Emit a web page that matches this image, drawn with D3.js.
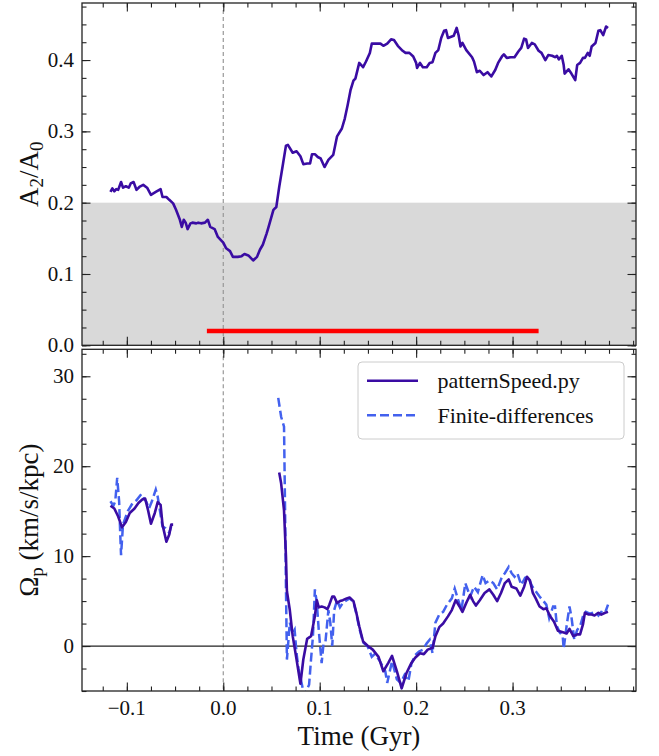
<!DOCTYPE html>
<html>
<head>
<meta charset="utf-8">
<script src="https://cdn.jsdelivr.net/npm/d3@7"></script>
<style>
  @font-face { font-family: "ChartSerif"; src: local("Liberation Serif"), local("LiberationSerif"), local("Tinos"); }
  body { margin: 0; background: #fff; }
</style>
</head>
<body>
<div id="chart"></div>
<script>
// bar strength A2/A0 vs time
const a2Time = [-0.117,-0.115,-0.113,-0.111,-0.109,-0.106,-0.104,-0.101,-0.098,-0.096,-0.093,-0.090,-0.087,-0.083,-0.079,-0.075,-0.070,-0.065,-0.063,-0.059,-0.056,-0.052,-0.049,-0.045,-0.043,-0.041,-0.039,-0.037,-0.034,-0.032,-0.028,-0.026,-0.023,-0.019,-0.016,-0.0135,-0.009,-0.0056,0.000,0.003,0.007,0.010,0.015,0.019,0.022,0.026,0.031,0.035,0.038,0.041,0.045,0.047,0.052,0.055,0.058,0.062,0.065,0.067,0.072,0.076,0.080,0.083,0.087,0.090,0.092,0.095,0.098,0.101,0.105,0.109,0.114,0.118,0.123,0.126,0.129,0.132,0.135,0.137,0.141,0.145,0.148,0.152,0.154,0.159,0.163,0.166,0.170,0.174,0.177,0.181,0.186,0.189,0.193,0.197,0.200,0.201,0.204,0.207,0.211,0.214,0.217,0.220,0.223,0.226,0.229,0.231,0.233,0.237,0.239,0.242,0.244,0.246,0.248,0.252,0.258,0.260,0.263,0.266,0.270,0.274,0.276,0.278,0.282,0.285,0.289,0.291,0.294,0.298,0.302,0.306,0.309,0.312,0.314,0.316,0.320,0.323,0.327,0.330,0.334,0.337,0.341,0.344,0.346,0.348,0.351,0.353,0.354,0.358,0.361,0.365,0.367,0.370,0.373,0.375,0.378,0.380,0.382,0.386,0.389,0.391,0.394,0.397,0.399];
const a2Ratio = [0.215,0.220,0.216,0.219,0.218,0.229,0.221,0.223,0.221,0.227,0.229,0.218,0.222,0.225,0.221,0.211,0.215,0.219,0.208,0.208,0.204,0.199,0.190,0.176,0.166,0.176,0.172,0.163,0.171,0.172,0.171,0.172,0.171,0.172,0.176,0.166,0.163,0.152,0.144,0.136,0.132,0.124,0.124,0.125,0.128,0.126,0.119,0.124,0.134,0.141,0.157,0.166,0.190,0.194,0.222,0.255,0.280,0.281,0.270,0.272,0.265,0.254,0.255,0.255,0.268,0.268,0.264,0.262,0.250,0.260,0.267,0.293,0.304,0.318,0.337,0.358,0.371,0.374,0.396,0.390,0.398,0.410,0.423,0.423,0.423,0.420,0.423,0.429,0.428,0.420,0.413,0.410,0.410,0.405,0.396,0.389,0.396,0.390,0.390,0.396,0.397,0.410,0.414,0.431,0.441,0.442,0.431,0.433,0.434,0.445,0.435,0.419,0.424,0.414,0.404,0.398,0.383,0.385,0.379,0.383,0.380,0.377,0.386,0.396,0.405,0.408,0.403,0.404,0.404,0.412,0.417,0.430,0.429,0.417,0.424,0.422,0.413,0.410,0.400,0.407,0.406,0.404,0.406,0.401,0.406,0.393,0.381,0.387,0.381,0.372,0.393,0.396,0.403,0.403,0.410,0.406,0.419,0.424,0.441,0.442,0.435,0.447,0.445];

// pattern speed, null marks the gap between the two segments
const patTime = [-0.117,-0.113,-0.109,-0.105,-0.101,-0.097,-0.092,-0.088,-0.084,-0.081,-0.078,-0.075,-0.071,-0.068,-0.065,-0.063,-0.059,-0.056,-0.054,-0.052,0.0,0.058,0.060,0.063,0.065,0.066,0.069,0.072,0.076,0.080,0.083,0.087,0.091,0.095,0.097,0.099,0.102,0.105,0.108,0.110,0.113,0.115,0.118,0.121,0.124,0.128,0.131,0.135,0.138,0.141,0.145,0.150,0.155,0.161,0.166,0.171,0.175,0.180,0.185,0.190,0.195,0.199,0.204,0.208,0.212,0.217,0.220,0.224,0.228,0.233,0.237,0.241,0.245,0.248,0.252,0.256,0.259,0.262,0.266,0.271,0.276,0.280,0.284,0.288,0.292,0.296,0.299,0.304,0.308,0.312,0.315,0.318,0.321,0.324,0.328,0.332,0.335,0.339,0.343,0.347,0.353,0.356,0.359,0.363,0.367,0.370,0.373,0.375,0.379,0.382,0.385,0.389,0.392,0.396,0.399];
const patOmega = [15.6,15.3,14.4,13.2,13.8,14.8,15.3,15.9,16.3,16.4,15.1,13.6,14.8,16.0,15.7,13.5,11.6,12.4,13.5,13.5,null,19.3,18.1,15.1,10.0,6.1,4.0,1.1,-1.5,-4.2,-1.5,0.8,1.1,3.3,5.1,4.3,4.4,4.3,4.1,4.6,5.5,5.5,4.8,5.0,5.1,5.3,5.4,5.0,3.7,2.2,0.5,0.0,-0.4,-1.2,-2.8,-1.9,-1.1,-2.8,-4.7,-3.0,-1.9,-1.3,-0.8,-0.9,-0.4,-0.2,1.1,2.1,2.5,3.3,4.0,5.1,4.4,3.8,4.8,5.7,5.0,4.5,5.1,5.9,6.3,5.7,5.0,5.9,7.0,7.4,6.6,6.4,5.6,6.6,7.7,7.3,5.9,5.3,4.4,4.1,4.2,3.3,2.7,1.7,1.5,1.4,1.9,1.1,1.3,1.3,2.4,3.7,3.5,3.5,3.4,3.7,3.5,3.7,3.8];

const fdTime = [-0.117,-0.114,-0.112,-0.110,-0.108,-0.107,-0.106,-0.104,-0.099,-0.094,-0.090,-0.085,-0.083,-0.080,-0.077,-0.074,-0.070,-0.068,-0.065,-0.063,-0.060,-0.056,-0.054,0.0,0.057,0.060,0.063,0.064,0.065,0.066,0.069,0.072,0.074,0.076,0.078,0.084,0.089,0.091,0.093,0.095,0.097,0.099,0.102,0.104,0.106,0.109,0.111,0.113,0.115,0.118,0.121,0.124,0.128,0.131,0.135,0.138,0.141,0.145,0.150,0.154,0.157,0.162,0.168,0.170,0.175,0.180,0.184,0.188,0.192,0.195,0.199,0.203,0.207,0.211,0.214,0.217,0.220,0.224,0.228,0.232,0.237,0.240,0.244,0.247,0.251,0.253,0.256,0.260,0.264,0.269,0.272,0.276,0.280,0.284,0.289,0.292,0.296,0.299,0.302,0.305,0.309,0.313,0.316,0.320,0.324,0.328,0.332,0.335,0.338,0.342,0.344,0.346,0.349,0.352,0.353,0.356,0.359,0.361,0.364,0.367,0.370,0.373,0.376,0.380,0.386,0.389,0.392,0.396,0.399];
const fdOmega = [16.1,15.6,16.1,18.7,16.1,12.9,10.1,13.5,15.0,15.9,16.2,16.9,16.5,16.1,15.3,16.1,17.4,16.6,14.6,13.3,13.1,12.6,13.3,null,27.6,25.5,24.4,15.9,6.6,-1.5,2.6,1.4,1.8,-0.8,-2.5,-5.5,-4.3,-1.5,1.1,6.3,4.8,1.8,-1.9,0.3,0.5,4.0,2.6,0.0,4.0,5.1,4.3,4.8,5.1,5.3,4.9,3.6,2.0,0.4,-0.1,-1.2,-0.9,-1.6,-2.8,-4.1,-1.7,-3.7,-4.1,-3.2,-3.9,-2.0,-1.0,-0.6,-0.4,0.3,0.7,-0.8,2.6,3.5,3.8,4.6,5.3,6.4,5.0,4.0,7.0,6.4,5.5,6.6,6.0,7.9,7.0,7.3,7.0,6.3,7.7,8.1,8.8,8.1,7.7,8.1,6.8,7.6,7.7,6.7,6.1,5.5,5.0,4.6,3.1,4.4,4.4,2.2,1.5,1.1,-0.3,2.2,4.4,3.3,0.7,1.8,2.2,3.3,3.8,3.6,3.8,3.4,3.8,3.7,4.6];

const xMajor = [-0.1, 0.0, 0.1, 0.2, 0.3];
const a2Major = [0.0, 0.1, 0.2, 0.3, 0.4];
const omegaMajor = [0, 10, 20, 30];
const barWindow = [-0.017, 0.327];   // red bar at A2/A0 = 0.02
const seriesNames = ["patternSpeed.py", "Finite-differences"];

const W = 659, H = 756;
const left = 82, right = 636;
const topPanel = {y0: 3, y1: 345.3};
const botPanel = {y0: 349.3, y1: 691};
const solidColor = "#3a0ca3", dashColor = "#4361ee";
const fontStyle = "font-family: 'Liberation Serif', ChartSerif, Tinos, 'Times New Roman', serif !important;";

const svg = d3.select("#chart").append("svg")
    .attr("width", W).attr("height", H);

const x = d3.scaleLinear().domain([-0.1465, 0.428]).range([left, right]);
const yTop = d3.scaleLinear().domain([0, 0.48]).range([topPanel.y1, topPanel.y0]);
const yBot = d3.scaleLinear().domain([-5, 33]).range([botPanel.y1, botPanel.y0]);

const xMinor = d3.range(-0.125, 0.43, 0.025).map(v => +v.toFixed(3));
const a2Minor = d3.range(0, 0.48, 0.025).map(v => +v.toFixed(3));
const omegaMinor = d3.range(-5, 33, 2.5);

const fmt = d => d < 0 ? "\u2212" + Math.abs(d).toFixed(1) : d.toFixed(1);

function label(parent, str, size) {
    return parent.append("text").attr("style", fontStyle)
        .attr("font-size", size).attr("fill", "#111").text(str);
}

svg.append("defs").append("clipPath").attr("id", "clipBot")
    .append("rect").attr("x", left).attr("y", botPanel.y0)
    .attr("width", right - left).attr("height", botPanel.y1 - botPanel.y0);
svg.select("defs").append("clipPath").attr("id", "clipTop")
    .append("rect").attr("x", left).attr("y", topPanel.y0)
    .attr("width", right - left).attr("height", topPanel.y1 - topPanel.y0);

function drawTicks(g, y, yMajor, yMinor, yFmt, showX, p) {
    const tk = (axis, vals, len, tx, ty) => g.append("g")
        .attr("transform", `translate(${tx},${ty})`)
        .call(axis.tickValues(vals).tickSizeInner(-len).tickSizeOuter(0).tickFormat(""));
    tk(d3.axisBottom(x), xMinor, 4.5, 0, p.y1);
    tk(d3.axisTop(x), xMinor, 4.5, 0, p.y0);
    tk(d3.axisLeft(y), yMinor, 4.5, left, 0);
    tk(d3.axisRight(y), yMinor, 4.5, right, 0);
    tk(d3.axisBottom(x), xMajor, 8.5, 0, p.y1);
    tk(d3.axisTop(x), xMajor, 8.5, 0, p.y0);
    tk(d3.axisLeft(y), yMajor, 8.5, left, 0);
    tk(d3.axisRight(y), yMajor, 8.5, right, 0);
    g.selectAll(".domain").remove();
    g.selectAll(".tick line").attr("stroke", "#222").attr("stroke-width", 1.1);

    yMajor.forEach(v => label(g, yFmt(v), 21)
        .attr("x", left - 8).attr("y", y(v) + 7).attr("text-anchor", "end"));
    if (showX) xMajor.forEach(v => label(g, fmt(v), 21)
        .attr("x", x(v)).attr("y", p.y1 + 24).attr("text-anchor", "middle"));

    g.append("rect").attr("x", left).attr("y", p.y0)
        .attr("width", right - left).attr("height", p.y1 - p.y0)
        .attr("fill", "none").attr("stroke", "#222").attr("stroke-width", 1.3);
}

// ---- top panel ----
const gTop = svg.append("g");
gTop.append("rect")
    .attr("x", left).attr("width", right - left)
    .attr("y", yTop(0.2)).attr("height", yTop(0) - yTop(0.2))
    .attr("fill", "#d9d9d9");
gTop.append("line")
    .attr("x1", x(0)).attr("x2", x(0)).attr("y1", topPanel.y0).attr("y2", topPanel.y1)
    .attr("stroke", "#999").attr("stroke-width", 1.2).attr("stroke-dasharray", "4,3");
gTop.append("line")
    .attr("x1", x(barWindow[0])).attr("x2", x(barWindow[1]))
    .attr("y1", yTop(0.02)).attr("y2", yTop(0.02))
    .attr("stroke", "#ff0000").attr("stroke-width", 4.5);

const a2Data = a2Time.map((t, i) => [t, a2Ratio[i]]);
gTop.append("path").datum(a2Data)
    .attr("clip-path", "url(#clipTop)")
    .attr("fill", "none").attr("stroke", solidColor).attr("stroke-width", 2.6)
    .attr("stroke-linejoin", "round")
    .attr("d", d3.line().x(d => x(d[0])).y(d => yTop(d[1])));

drawTicks(gTop, yTop, a2Major, a2Minor, d => d.toFixed(1), false, topPanel);

// ---- bottom panel ----
const gBot = svg.append("g");
gBot.append("line")
    .attr("x1", x(0)).attr("x2", x(0)).attr("y1", botPanel.y0).attr("y2", botPanel.y1)
    .attr("stroke", "#999").attr("stroke-width", 1.2).attr("stroke-dasharray", "4,3");
gBot.append("line")
    .attr("x1", left).attr("x2", right).attr("y1", yBot(0)).attr("y2", yBot(0))
    .attr("stroke", "#222").attr("stroke-width", 1.2);

const lineBot = d3.line().defined(d => d[1] != null).x(d => x(d[0])).y(d => yBot(d[1]));
const fdData = fdTime.map((t, i) => [t, fdOmega[i]]);
const patData = patTime.map((t, i) => [t, patOmega[i]]);

gBot.append("path").datum(fdData)
    .attr("clip-path", "url(#clipBot)")
    .attr("fill", "none").attr("stroke", dashColor).attr("stroke-width", 2.5)
    .attr("stroke-dasharray", "9,4").attr("d", lineBot);
gBot.append("path").datum(patData)
    .attr("clip-path", "url(#clipBot)")
    .attr("fill", "none").attr("stroke", solidColor).attr("stroke-width", 2.6)
    .attr("stroke-linejoin", "round").attr("d", lineBot);

drawTicks(gBot, yBot, omegaMajor, omegaMinor, d => String(d), true, botPanel);

// legend
const leg = svg.append("g");
leg.append("rect").attr("x", 358).attr("y", 362).attr("width", 266).attr("height", 77)
    .attr("rx", 4).attr("fill", "#fff").attr("fill-opacity", 0.8)
    .attr("stroke", "#cccccc").attr("stroke-width", 1);
seriesNames.forEach((name, i) => {
    const yy = 380.7 + i * 34.6;
    leg.append("line").attr("x1", 367).attr("x2", 418).attr("y1", yy).attr("y2", yy)
        .attr("stroke", i === 0 ? solidColor : dashColor).attr("stroke-width", 2.5)
        .attr("stroke-dasharray", i === 0 ? null : "9,4");
    label(leg, name, 22).attr("x", 437.5).attr("y", yy + 7.5);
});

// axis labels
const yl1 = label(svg, null, 27)
    .attr("transform", `translate(38,${(topPanel.y0 + topPanel.y1) / 2}) rotate(-90)`)
    .attr("text-anchor", "middle");
yl1.append("tspan").text("A");
yl1.append("tspan").attr("font-size", 19).attr("dy", 5).text("2");
yl1.append("tspan").attr("dy", -5).text("/A");
yl1.append("tspan").attr("font-size", 19).attr("dy", 5).text("0");

const yl2 = label(svg, null, 27)
    .attr("transform", `translate(38,${(botPanel.y0 + botPanel.y1) / 2}) rotate(-90)`)
    .attr("text-anchor", "middle");
yl2.append("tspan").text("\u03A9");
yl2.append("tspan").attr("font-size", 19).attr("dy", 5).text("p");
yl2.append("tspan").attr("dy", -5).text(" (km/s/kpc)");

label(svg, "Time (Gyr)", 27)
    .attr("x", (left + right) / 2).attr("y", 745).attr("text-anchor", "middle");
</script>
</body>
</html>
